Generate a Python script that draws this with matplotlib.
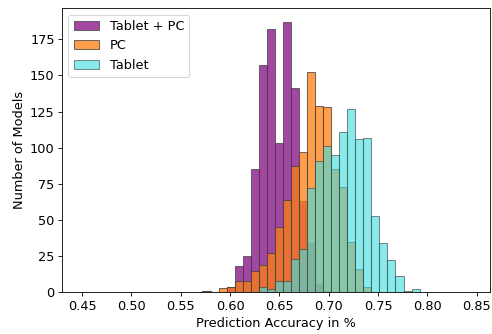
import numpy as np
from matplotlib import pyplot as plt

# shared bin layout
bin_start = 0.5721
bin_width = 0.00815
n_bins = 27

# counts per bin (Tablet + PC, PC, Tablet)
tablet_pc = [1, 0, 0, 4, 18, 25, 85, 157, 182, 103, 187, 141, 63, 34, 6, 1,
             0, 0, 0, 0, 0, 0, 0, 0, 0, 0, 0]
pc = [1, 0, 3, 4, 8, 8, 15, 19, 27, 45, 64, 87, 97, 152, 129, 128,
      85, 73, 35, 16, 4, 0, 0, 0, 0, 0, 0]
tablet = [0, 0, 0, 0, 0, 0, 0, 4, 2, 8, 8, 23, 30, 72, 91, 101,
          95, 111, 127, 106, 107, 53, 34, 22, 11, 1, 2]

edges = bin_start + bin_width * np.arange(n_bins + 1)
centers = (edges[:-1] + edges[1:]) / 2

plt.rcParams['font.size'] = 12.2

fig = plt.figure(figsize=(492 / 76, 334 / 76), dpi=76)
ax = fig.add_subplot(111)
fig.subplots_adjust(left=62 / 492, right=490 / 492, bottom=1 - 292.3 / 334, top=1 - 8.3 / 334)

ax.hist(centers, bins=edges, weights=tablet_pc, color='purple', alpha=0.72,
        edgecolor='#404040', label='Tablet + PC')
ax.hist(centers, bins=edges, weights=pc, color='tab:orange', alpha=0.75,
        edgecolor='#404040', label='PC')
ax.hist(centers, bins=edges, weights=tablet, color='#40e0e0', alpha=0.62,
        edgecolor='#404040', label='Tablet')

ax.set_xlim(0.4297, 0.8635)
ax.set_xticks([0.45, 0.50, 0.55, 0.60, 0.65, 0.70, 0.75, 0.80, 0.85])
ax.set_xlabel('Prediction Accuracy in %')
ax.set_ylabel('Number of Models')
ax.legend(loc='upper left')

plt.savefig('out.png', dpi=76)
